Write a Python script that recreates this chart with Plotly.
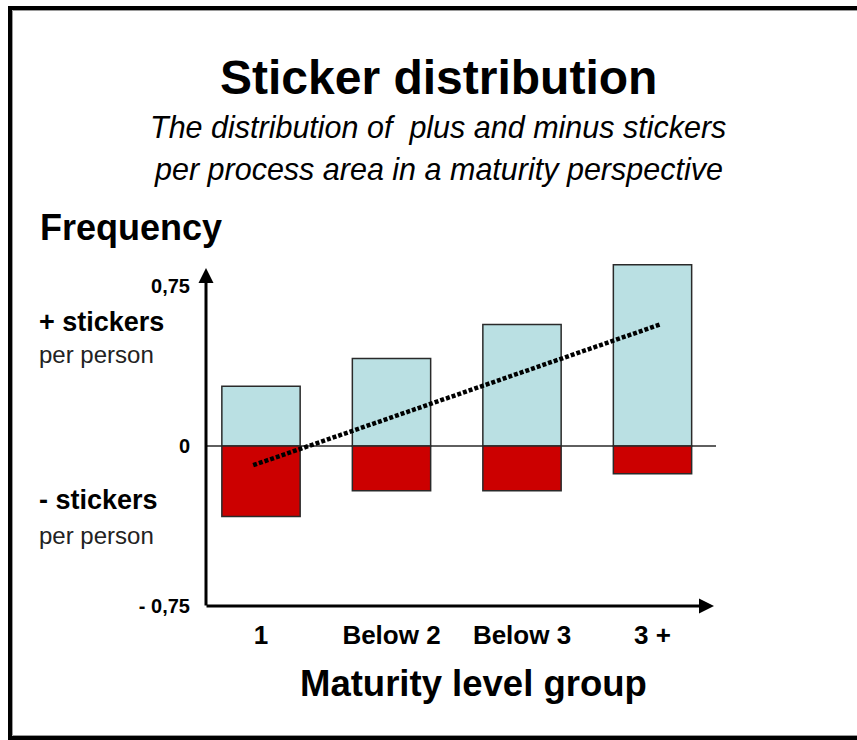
import plotly.graph_objects as go

# ---- data ----
categories = ["1", "Below 2", "Below 3", "3 +"]
plus_stickers = [0.28, 0.41, 0.57, 0.85]      # + stickers per person
minus_stickers = [-0.33, -0.21, -0.21, -0.13]  # - stickers per person
trend_x = [-0.06, 3.06]                        # dotted trend line, category positions
trend_y = [-0.09, 0.57]
y_ticks = [-0.75, 0, 0.75]
y_ticktext = ["- 0,75", "0", "0,75"]

# ---- geometry ----
W, H = 857, 740
L, R, T, B = 206, 710, 262, 606  # plot area in pixels
FONT = "Liberation Sans, Arial, sans-serif"


def px(x):
    return (x - L) / (R - L)


def py(y):
    return (B - y) / (B - T)


pos = list(range(len(categories)))

fig = go.Figure()
fig.add_trace(go.Bar(
    x=pos, y=plus_stickers, width=0.6,
    marker=dict(color="#BAE0E3", line=dict(color="#2a2a2a", width=1.5)),
    showlegend=False, hoverinfo="skip",
))
fig.add_trace(go.Bar(
    x=pos, y=minus_stickers, width=0.6,
    marker=dict(color="#CC0000", line=dict(color="#2a2a2a", width=1.5)),
    showlegend=False, hoverinfo="skip",
))
fig.add_trace(go.Scatter(
    x=trend_x, y=trend_y, mode="lines",
    line=dict(color="black", width=4.5, dash="4px,2px"),
    showlegend=False, hoverinfo="skip",
))

shapes = [
    # zero line
    dict(type="line", xref="paper", yref="y", x0=0, x1=px(716), y0=0, y1=0,
         line=dict(color="#2a2a2a", width=1.3), layer="below"),
    # outer frame
    dict(type="rect", xref="paper", yref="paper",
         x0=px(10), x1=px(900), y0=py(8), y1=py(738),
         line=dict(color="black", width=4)),
    dict(type="rect", xref="paper", yref="paper",
         x0=px(12.5), x1=px(900), y0=py(10.5), y1=py(735.5),
         line=dict(color="#9a9a9a", width=1)),
]

annotations = [
    # axis arrows
    dict(x=0, y=py(268), xref="paper", yref="paper", ax=0, ay=B - 268 + 1,
         text="", showarrow=True, arrowhead=2, arrowwidth=3, arrowsize=1,
         arrowcolor="black", standoff=0),
    dict(x=px(714), y=0, xref="paper", yref="paper", ax=-(714 - L + 1), ay=0,
         text="", showarrow=True, arrowhead=2, arrowwidth=3, arrowsize=1,
         arrowcolor="black", standoff=0),
    # titles
    dict(x=px(438), y=py(78), xref="paper", yref="paper", showarrow=False,
         text="<b>Sticker distribution</b>", xanchor="center", yanchor="middle",
         font=dict(family=FONT, size=48, color="black")),
    dict(x=px(438), y=py(127), xref="paper", yref="paper", showarrow=False,
         text="<i>The distribution of  plus and minus stickers</i>",
         xanchor="center", yanchor="middle",
         font=dict(family=FONT, size=30.5, color="black")),
    dict(x=px(438), y=py(169), xref="paper", yref="paper", showarrow=False,
         text="<i>per process area in a maturity perspective</i>",
         xanchor="center", yanchor="middle",
         font=dict(family=FONT, size=30.5, color="black")),
    dict(x=px(38), y=py(227), xref="paper", yref="paper", showarrow=False,
         text="<b>Frequency</b>", xanchor="left", yanchor="middle",
         font=dict(family=FONT, size=36, color="black")),
    dict(x=px(37), y=py(322), xref="paper", yref="paper", showarrow=False,
         text="<b>+ stickers</b>", xanchor="left", yanchor="middle",
         font=dict(family=FONT, size=27, color="black")),
    dict(x=px(37), y=py(354), xref="paper", yref="paper", showarrow=False,
         text="per person", xanchor="left", yanchor="middle",
         font=dict(family=FONT, size=24, color="#222222")),
    dict(x=px(37), y=py(500), xref="paper", yref="paper", showarrow=False,
         text="<b>- stickers</b>", xanchor="left", yanchor="middle",
         font=dict(family=FONT, size=27, color="black")),
    dict(x=px(37), y=py(535), xref="paper", yref="paper", showarrow=False,
         text="per person", xanchor="left", yanchor="middle",
         font=dict(family=FONT, size=24, color="#222222")),
    dict(x=px(473), y=py(683), xref="paper", yref="paper", showarrow=False,
         text="<b>Maturity level group</b>", xanchor="center", yanchor="middle",
         font=dict(family=FONT, size=36.5, color="black")),
]

fig.update_layout(
    width=W, height=H,
    margin=dict(l=L, r=W - R, t=T, b=H - B, pad=0),
    paper_bgcolor="white", plot_bgcolor="white",
    barmode="relative",
    shapes=shapes, annotations=annotations,
    xaxis=dict(
        range=[-(261 - L) / 130.5, (R - 261) / 130.5],
        tickvals=pos, ticktext=[f"<b>{c}</b>" for c in categories],
        tickfont=dict(family=FONT, size=26, color="black"),
        ticks="outside", ticklen=6, tickcolor="rgba(0,0,0,0)",
        showgrid=False, zeroline=False, showline=False, fixedrange=True,
    ),
    yaxis=dict(
        range=[-0.75, -0.75 + (B - T) / 213.33],
        tickvals=y_ticks, ticktext=[f"<b>{t}</b>" for t in y_ticktext],
        tickfont=dict(family=FONT, size=20, color="black"),
        ticks="outside", ticklen=11, tickcolor="rgba(0,0,0,0)",
        showgrid=False, zeroline=False, showline=False, fixedrange=True,
    ),
)

fig.write_html("out.html")
